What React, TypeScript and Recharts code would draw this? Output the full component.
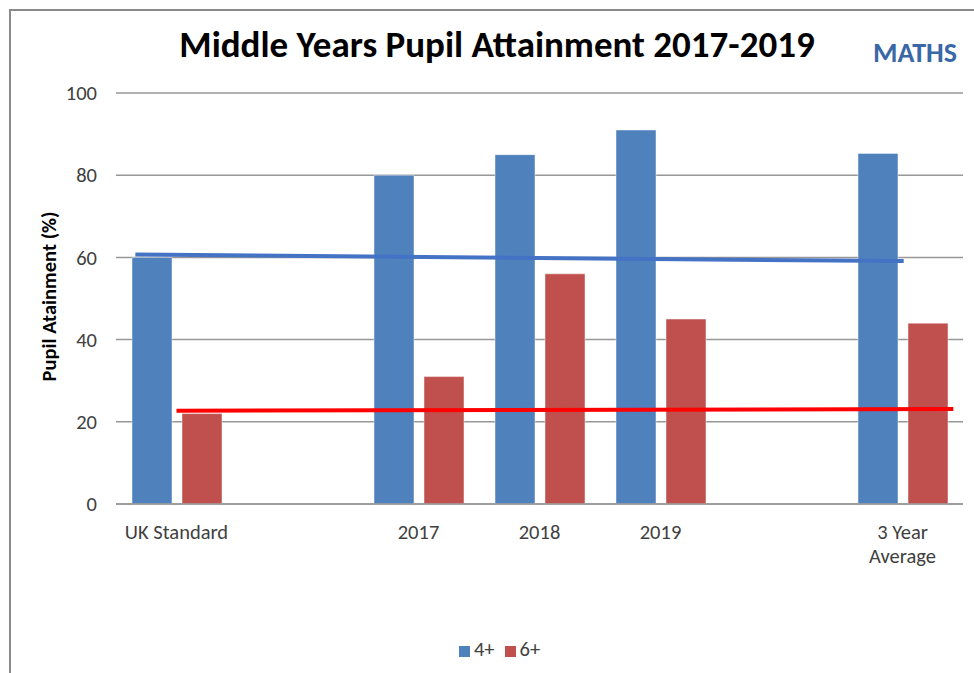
import React from 'react';
import {
  ComposedChart,
  Bar,
  Line,
  XAxis,
  YAxis,
  CartesianGrid,
  Legend,
} from 'recharts';

const FONT = 'Carlito, Calibri, Lato, "Open Sans", sans-serif';

// categories along the axis (blank slots leave the gaps seen in the original)
const categories = ['UK Standard', '', '2017', '2018', '2019', ' ', '3 Year Average'];
const fourPlus = [60, null, 80, 85, 91, null, 85.3];
const sixPlus = [22, null, 31, 56, 45, null, 44];
const yTicks = [0, 20, 40, 60, 80, 100];

// linear trendlines, position measured in category slots (0..7)
const trendFourPlus = [
  { pos: 0.16, value: 60.7 },
  { pos: 6.51, value: 59.1 },
];
const trendSixPlus = [
  { pos: 0.5, value: 22.7 },
  { pos: 6.92, value: 23.1 },
];

// labels that wrap onto two lines
const wrappedLabels: Record<string, string[]> = {
  '3 Year Average': ['3 Year', 'Average'],
};

const data = categories.map((name, i) => ({
  name,
  four: fourPlus[i],
  six: sixPlus[i],
}));

const XTick = (props: any) => {
  const { x, y, payload } = props;
  const value: string = payload.value;
  const lines = wrappedLabels[value] || [value];
  return (
    <text x={x} y={y + 33} textAnchor="middle" fontSize={20.5} fill="#404040">
      {lines.map((l, i) => (
        <tspan key={i} x={x} dy={i === 0 ? 0 : 24}>
          {l}
        </tspan>
      ))}
    </text>
  );
};

const YLabel = (props: any) => {
  const { viewBox } = props;
  const cx = viewBox.x + 49;
  const cy = viewBox.y + viewBox.height / 2 - 2;
  return (
    <text
      x={cx}
      y={cy}
      transform={`rotate(-90, ${cx}, ${cy})`}
      textAnchor="middle"
      dominantBaseline="central"
      fontSize={20.5}
      fontWeight="bold"
      fill="#000"
    >
      Pupil Atainment (%)
    </text>
  );
};

export default function App() {
  return (
    <div
      style={{
        position: 'fixed',
        left: 0,
        top: 0,
        width: 974,
        height: 673,
        overflow: 'hidden',
        background: '#fff',
        fontFamily: FONT,
      }}
    >
      <div
        style={{
          position: 'absolute',
          left: 9,
          top: 9,
          width: 1100,
          height: 900,
          border: '2px solid #8a8a8a',
        }}
      />
      <div
        style={{
          position: 'absolute',
          left: 0,
          top: 26,
          width: 994,
          textAlign: 'center',
          fontSize: 37,
          fontWeight: 'bold',
          lineHeight: '37px',
          color: '#000',
        }}
      >
        Middle Years Pupil Attainment 2017-2019
      </div>
      <div
        style={{
          position: 'absolute',
          left: 815,
          top: 39,
          width: 200,
          textAlign: 'center',
          fontSize: 28,
          fontWeight: 'bold',
          lineHeight: '28px',
          color: '#3a67a6',
        }}
      >
        MATHS
      </div>
      <div style={{ position: 'absolute', left: 0, top: 0 }}>
        <ComposedChart
          width={974}
          height={673}
          data={data}
          barGap={10}
          margin={{ top: 93, right: 11, bottom: 11, left: 0 }}
        >
          <CartesianGrid vertical={false} stroke="#979797" strokeWidth={1.5} />
          <XAxis
            dataKey="name"
            interval={0}
            height={132}
            tickSize={0}
            tickLine={false}
            axisLine={{ stroke: '#979797', strokeWidth: 1.5 }}
            tick={<XTick />}
          />
          <XAxis
            xAxisId="trend"
            dataKey="pos"
            type="number"
            domain={[0, 7]}
            hide
          />
          <YAxis
            width={116}
            domain={[0, 100]}
            ticks={yTicks}
            tickSize={0}
            tickMargin={19}
            tickLine={false}
            axisLine={false}
            tick={{ fontSize: 20.5, fill: '#404040' }}
            label={<YLabel />}
          />
          <Bar
            dataKey="four"
            name="4+"
            fill="#4f81bd"
            stroke="#ffffff"
            strokeOpacity={0.45}
            barSize={40}
            isAnimationActive={false}
          />
          <Bar
            dataKey="six"
            name="6+"
            fill="#c0504d"
            stroke="#ffffff"
            strokeOpacity={0.45}
            barSize={40}
            isAnimationActive={false}
          />
          <Line
            xAxisId="trend"
            data={trendFourPlus}
            dataKey="value"
            stroke="#4472c4"
            strokeWidth={4}
            dot={false}
            legendType="none"
            isAnimationActive={false}
          />
          <Line
            xAxisId="trend"
            data={trendSixPlus}
            dataKey="value"
            stroke="#ff0000"
            strokeWidth={4}
            dot={false}
            legendType="none"
            isAnimationActive={false}
          />
          <Legend
            verticalAlign="bottom"
            iconType="square"
            iconSize={11}
            wrapperStyle={{ left: 23, fontSize: 20.5 }}
            formatter={(value: string) => (
              <span style={{ color: '#404040' }}>{value}</span>
            )}
          />
        </ComposedChart>
      </div>
    </div>
  );
}
